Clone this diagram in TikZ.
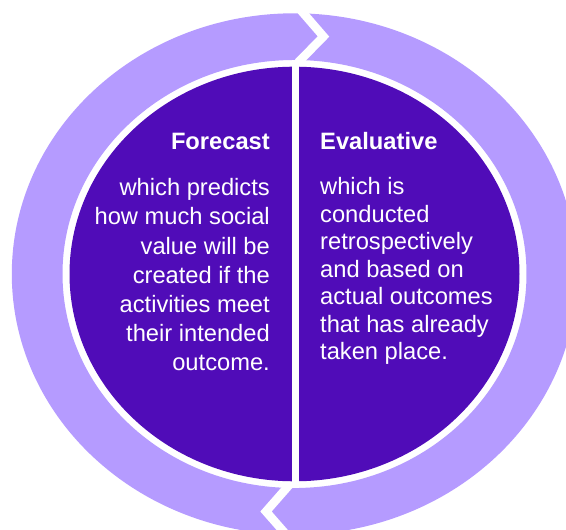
\documentclass[tikz,border=0pt]{standalone}
\usepackage{fontspec}
\setmainfont{Liberation Sans}
\definecolor{ringlilac}{RGB}{181,155,255}
\definecolor{corepurple}{RGB}{80,12,184}
\begin{document}
\begin{tikzpicture}[x=1pt,y=1pt,
    heading/.style={text=white,inner sep=0pt,font=\fontsize{23.7}{29}\selectfont\bfseries},
    bodytext/.style={text=white,inner sep=0pt},
    cut/.style={draw=white,line width=8.5pt,line join=miter,line cap=butt}]
  \useasboundingbox (0,0) rectangle (566,530);
  \clip (0,0) rectangle (566,530);
  \coordinate (c) at (294.5,256);
  % outer cycle ring
  \fill[ringlilac,even odd rule]
    (c) ellipse [x radius=282.7, y radius=260.7]
    (c) ellipse [x radius=232, y radius=214];
  % chevron cuts that turn the ring into a clockwise loop
  \coordinate (tA) at (299.5,518);
  \coordinate (tB) at (323.5,493.5);
  \coordinate (tC) at (299.5,469);
  \draw[cut] (tA) ++(1.5,1.5) -- (tB) -- (tC) -- ++(-1.5,-1.5);
  \coordinate (bA) at (291,47);
  \coordinate (bB) at (266,18.5);
  \coordinate (bC) at (291,-10);
  \draw[cut] (bA) ++(1.5,1.7) -- (bB) -- (bC);
  % inner disc split into two halves
  \fill[corepurple] (c) ellipse [x radius=225, y radius=207.3];
  \coordinate (splitTop) at (295.3,470);
  \coordinate (splitBot) at (295.3,42);
  \draw[white,line width=7pt] (splitTop) -- (splitBot);
  % left half (multi-line nodes sit on the baseline of their last line)
  \node[heading,anchor=base east] (forecast) at (270,380) {Forecast};
  \node[bodytext,anchor=base east,align=right,
        font=\fontsize{23.7}{29.2}\selectfont] (forecastText) at (270,159)
    {which predicts\\how much social\\value will be\\created if the\\activities meet\\their intended\\outcome.};
  % right half
  \node[heading,anchor=base west] (evaluative) at (320,380) {Evaluative};
  \node[bodytext,anchor=base west,align=left,
        font=\fontsize{23.7}{27.5}\selectfont] (evaluativeText) at (320,170)
    {which is\\conducted\\retrospectively\\and based on\\actual outcomes\\that has already\\taken place.};
\end{tikzpicture}
\end{document}
